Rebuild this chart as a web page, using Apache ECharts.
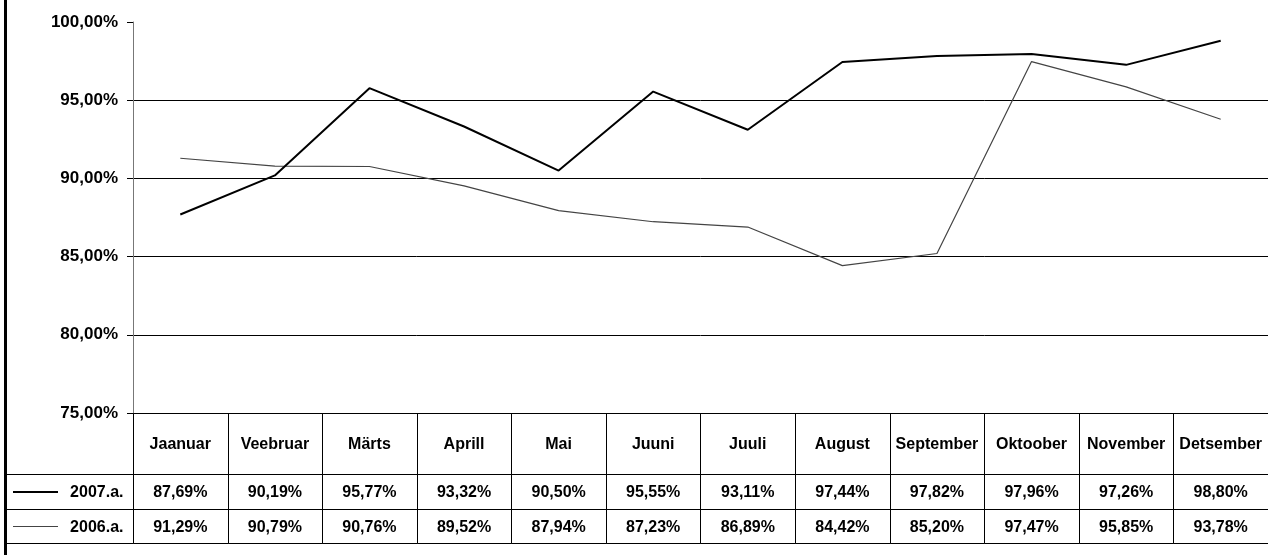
<!DOCTYPE html>
<html>
<head>
<meta charset="utf-8">
<script src="https://cdn.jsdelivr.net/npm/echarts@6/dist/echarts.min.js"></script>
<style>
html,body{margin:0;padding:0;background:#fff;}
#chart{width:1268px;height:555px;}
</style>
</head>
<body>
<div id="chart"></div>
<script>
// ---- data ----
const months = ['Jaanuar','Veebruar','Märts','Aprill','Mai','Juuni','Juuli','August','September','Oktoober','November','Detsember'];
const seriesNames = ['2007.a.','2006.a.'];
const values2007 = [87.69, 90.19, 95.77, 93.32, 90.50, 95.55, 93.11, 97.44, 97.82, 97.96, 97.26, 98.80];
const values2006 = [91.29, 90.79, 90.76, 89.52, 87.94, 87.23, 86.89, 84.42, 85.20, 97.47, 95.85, 93.78];
const yMin = 75, yMax = 100, yStep = 5;

// ---- layout / style ----
const FONT = '"Liberation Sans", Arial, sans-serif';
const tableFont = 'bold 16px ' + FONT;
const rowEdges = [0, 61, 96, 130];   // table row boundaries (px inside table grid)
const legendLeft = 5;
const lineStyles = [
  {color: '#000', width: 2},
  {color: '#444', width: 1.2}
];

function fmt(v) { return v.toFixed(2).replace('.', ',') + '%'; }
const seriesValues = [values2007, values2006];

function cellText(col, row) {
  if (row === 0) return months[col];
  return fmt(seriesValues[row - 1][col]);
}

function rowBox(api, row) {
  const y0 = api.coord([0, rowEdges[row]])[1];
  const y1 = api.coord([0, rowEdges[row + 1]])[1];
  return [Math.round(y0) + 0.5, Math.round(y1) + 0.5];
}

function renderCell(params, api) {
  const col = api.value(0), row = api.value(1);
  const cx = api.coord([col, 0])[0];
  const w = api.size([1, 0])[0];
  const [y0, y1] = rowBox(api, row);
  const x0 = Math.round(cx - w / 2) + 0.5;
  const x1 = Math.round(cx + w / 2) + 0.5;
  return {
    type: 'group',
    children: [
      {type: 'rect', shape: {x: x0, y: y0, width: x1 - x0, height: y1 - y0},
       style: {fill: 'none', stroke: '#000', lineWidth: 1}},
      {type: 'text', x: cx, y: (y0 + y1) / 2 + 1,
       style: {text: cellText(col, row), font: tableFont, fill: '#000', align: 'center', verticalAlign: 'middle'}}
    ]
  };
}

function renderLegendCell(params, api) {
  const row = api.value(1);
  const cx = api.coord([0, 0])[0];
  const w = api.size([1, 0])[0];
  const xr = Math.round(cx - w / 2) + 0.5;
  const [y0, y1] = rowBox(api, row);
  const ym = (y0 + y1) / 2;
  const ls = lineStyles[row - 1];
  return {
    type: 'group',
    children: [
      {type: 'rect', shape: {x: legendLeft + 0.5, y: y0, width: xr - legendLeft - 0.5, height: y1 - y0},
       style: {fill: 'none', stroke: '#000', lineWidth: 1}},
      {type: 'line', shape: {x1: legendLeft + 8, y1: ym, x2: legendLeft + 53, y2: ym},
       style: {stroke: ls.color, lineWidth: ls.width}},
      {type: 'text', x: xr - 10, y: ym + 1,
       style: {text: seriesNames[row - 1], font: tableFont, fill: '#000', align: 'right', verticalAlign: 'middle'}}
    ]
  };
}

const cellData = [];
for (let r = 0; r < 3; r++) for (let c = 0; c < months.length; c++) cellData.push([c, r]);

const chart = echarts.init(document.getElementById('chart'), null, {renderer: 'canvas'});
chart.setOption({
  backgroundColor: '#fff',
  animation: false,
  grid: [
    {left: 133, right: 0, top: 22, bottom: 142, containLabel: false},
    {left: 133, right: 0, top: 413, bottom: 12, containLabel: false}
  ],
  xAxis: [
    {gridIndex: 0, type: 'category', data: months, boundaryGap: true,
     axisLine: {show: false}, axisTick: {show: false}, axisLabel: {show: false}, splitLine: {show: false}},
    {gridIndex: 1, type: 'category', data: months, boundaryGap: true, show: false}
  ],
  yAxis: [
    {gridIndex: 0, type: 'value', min: yMin, max: yMax, interval: yStep,
     axisLine: {show: true, lineStyle: {color: '#777', width: 1}},
     axisTick: {show: true, inside: false, length: 6, lineStyle: {color: '#000'}},
     axisLabel: {formatter: fmt, color: '#000', fontFamily: FONT, fontSize: 17, fontWeight: 'bold', margin: 15},
     splitLine: {show: true, showMaxLine: false, lineStyle: {color: '#000', width: 1}}},
    {gridIndex: 1, type: 'value', min: 0, max: rowEdges[rowEdges.length - 1], inverse: true, show: false}
  ],
  series: [
    {name: seriesNames[0], type: 'line', xAxisIndex: 0, yAxisIndex: 0, data: values2007,
     showSymbol: false, symbol: 'none', lineStyle: lineStyles[0], itemStyle: {color: lineStyles[0].color}, z: 4},
    {name: seriesNames[1], type: 'line', xAxisIndex: 0, yAxisIndex: 0, data: values2006,
     showSymbol: false, symbol: 'none', lineStyle: lineStyles[1], itemStyle: {color: lineStyles[1].color}, z: 3},
    {type: 'custom', xAxisIndex: 1, yAxisIndex: 1, renderItem: renderCell, data: cellData, silent: true},
    {type: 'custom', xAxisIndex: 1, yAxisIndex: 1, renderItem: renderLegendCell, data: [[0, 1], [0, 2]], silent: true, clip: false}
  ],
  graphic: [
    {type: 'rect', left: 4, top: 0, shape: {width: 3, height: 555}, style: {fill: '#000'}}
  ]
});
</script>
</body>
</html>
